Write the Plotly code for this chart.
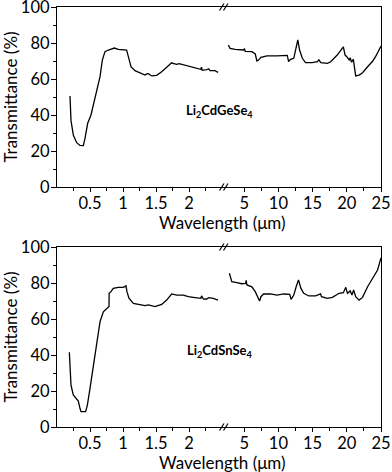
import plotly.graph_objects as go

# ---------------- data ----------------
ge_nir_wl = [0.197, 0.212, 0.247, 0.298, 0.348, 0.399, 0.424, 0.465, 0.515, 0.565, 0.616, 0.652,
             0.687, 0.727, 0.778, 0.828, 0.869, 0.929, 1.005, 1.055, 1.081, 1.121, 1.182, 1.258,
             1.333, 1.36, 1.384, 1.434, 1.51, 1.586, 1.662, 1.737, 1.77, 1.813, 1.85, 1.889,
             1.99, 2.09, 2.177, 2.19, 2.2, 2.27, 2.3, 2.318, 2.394, 2.44]
ge_nir_T = [50.6, 37, 28.9, 24.6, 23.1, 23, 27, 35.4, 40, 47.4, 55.7, 61.3,
            70.5, 75.2, 76.1, 76.5, 77.2, 76.5, 76, 76, 72.4, 66.8, 64.6, 63.5,
            62.2, 62.8, 63, 61.7, 62, 64, 66.8, 69, 68.6, 68.1, 68.5, 68.1,
            67.2, 66.3, 65.4, 66.6, 64.8, 65.2, 65.7, 64.6, 64.6, 63.7]

ge_ir_wl = [2.69, 2.94, 3.68, 4.9, 5.05, 5.15, 6.13, 6.62, 6.86, 7.1, 7.45, 8.33, 9.8, 11.3,
            11.5, 11.76, 12.25, 12.6, 12.84, 13.1, 13.5, 13.97, 14.95, 15.7, 15.93, 16.2,
            17.16, 17.65, 18.6, 19.5, 19.75, 20.0, 20.35, 20.5, 20.7, 20.95, 21.1, 21.3,
            21.8, 22.3, 23.04, 23.8, 24.26, 24.75, 25.0]
ge_ir_T = [78.9, 77, 76.5, 76.1, 76.8, 75.3, 75.2, 73.9, 70, 70.5, 72, 72.8, 72.8, 73.1,
           69.6, 70.9, 71.5, 77.9, 81.7, 76.1, 71.5, 69.1, 69.1, 69.6, 70.6, 69.1,
           68.7, 69.6, 73.3, 77.9, 73.3, 72.4, 70.6, 71.8, 69.3, 71, 66.8, 61.7,
           62.2, 63.5, 66.8, 70, 72.8, 76.5, 78.3]

sn_nir_wl = [0.187, 0.197, 0.212, 0.247, 0.283, 0.323, 0.348, 0.364, 0.434, 0.46, 0.5, 0.55,
             0.6, 0.652, 0.702, 0.753, 0.788, 0.79, 0.818, 0.853, 0.929, 1.005, 1.045, 1.06,
             1.09, 1.157, 1.258, 1.333, 1.384, 1.485, 1.586, 1.662, 1.737, 1.813, 1.914, 1.99,
             2.09, 2.18, 2.19, 2.22, 2.27, 2.3, 2.37, 2.44]
sn_nir_T = [41.5, 32.6, 23.3, 17.8, 15.9, 14.4, 10.4, 8.5, 8.5, 12.2, 21.5, 34.4,
            47.4, 58.5, 64, 65.9, 66.9, 74.3, 75.2, 77, 77.6, 77.6, 78.4, 75.2,
            71.5, 68.7, 67.8, 67.4, 67.8, 66.9, 68.1, 70.5, 73.9, 73.3, 73.3, 72.4,
            71.9, 71.5, 72.8, 71, 71.1, 71.9, 71.5, 70.5]

sn_ir_wl = [2.84, 3.19, 3.93, 4.66, 5.2, 5.3, 5.4, 6.13, 6.62, 6.96, 7.25, 7.45, 7.84, 8.82,
            9.8, 10.8, 11.66, 11.86, 12.25, 12.6, 12.94, 13.3, 13.7, 14.45, 15.44, 16.17,
            16.3, 17.16, 17.9, 18.87, 19.5, 19.85, 20.1, 20.5, 20.76, 21.0, 21.3, 21.8,
            22.3, 23.04, 23.8, 24.5, 25.0]
sn_ir_T = [85.4, 80.7, 80.2, 79.6, 79.8, 81.5, 78.9, 77.9, 75.2, 72.4, 70, 72.4, 73.9, 73.9,
           73.3, 73.9, 73.7, 70.9, 73.3, 77.9, 81.7, 77, 74.3, 72.8, 72.8, 73.9,
           72.4, 71.5, 72, 74.3, 74.6, 77.6, 74.3, 75.6, 73.3, 76.1, 72.4, 70.5,
           72, 77.9, 82.6, 87.2, 94]

nir_ticks = [0.5, 1, 1.5, 2]
nir_ticklabels = ["0.5", "1", "1.5", "2"]
nir_minor = [0.25, 0.75, 1.25, 1.75, 2.25]
ir_ticks = [5, 10, 15, 20, 25]
ir_ticklabels = ["5", "10", "15", "20", "25"]
ir_minor = [7.5, 12.5, 17.5, 22.5]
y_ticks = [0, 20, 40, 60, 80, 100]
y_minor = [10, 30, 50, 70, 90]

labels = ["Li<sub>2</sub>CdGeSe<sub>4</sub>", "Li<sub>2</sub>CdSnSe<sub>4</sub>"]
x_title = "Wavelength (μm)"
y_title = "Transmittance (%)"

# ---------------- layout geometry ----------------
W, H = 392, 472
ML, MR, MT, MB = 57, 11, 7, 45
PW, PH = W - ML - MR, H - MT - MB
split_px = 225
split = (split_px - ML) / PW
top_dom = [(427 - 187) / PH, 1.0]
bot_dom = [0.0, (427 - 247) / PH]

FONT = "Lato"
FS = 16.5

fig = go.Figure()
line = dict(color="black", width=1.3)
series = [(ge_nir_wl, ge_nir_T, "x", "y"), (ge_ir_wl, ge_ir_T, "x2", "y2"),
          (sn_nir_wl, sn_nir_T, "x3", "y3"), (sn_ir_wl, sn_ir_T, "x4", "y4")]
for xs, ys, xa, ya in series:
    fig.add_trace(go.Scatter(x=xs, y=ys, mode="lines", line=line, xaxis=xa, yaxis=ya,
                             showlegend=False, hoverinfo="skip", cliponaxis=False))

common_x = dict(showline=True, linecolor="black", linewidth=1.3, mirror=True, showgrid=False,
                zeroline=False, ticks="outside", ticklen=4, tickwidth=1.1, tickcolor="black",
                tickfont=dict(family=FONT, size=FS, color="black"), tickmode="array",
                automargin=False, ticklabeloverflow="allow", ticklabelstandoff=-3)
nir_x = dict(common_x, range=[0, (split_px - ML) / 66.0], tickvals=nir_ticks, ticktext=nir_ticklabels,
             minor=dict(tickmode="array", tickvals=nir_minor, ticks="outside", ticklen=3,
                        tickcolor="black", tickwidth=1.1))
ir_x = dict(common_x, range=[(split_px - 210) / 6.82, 25], tickvals=ir_ticks, ticktext=ir_ticklabels,
            minor=dict(tickmode="array", tickvals=ir_minor, ticks="outside", ticklen=3,
                       tickcolor="black", tickwidth=1.1))
left_y = dict(range=[0, 100], showline=True, linecolor="black", linewidth=1.3, showgrid=False,
              zeroline=False, ticks="outside", ticklen=5, tickwidth=1.1, tickcolor="black",
              tickmode="array", tickvals=y_ticks, automargin=False, ticklabeloverflow="allow",
              ticklabelstandoff=-2,
              minor=dict(tickmode="array", tickvals=y_minor, ticks="outside", ticklen=3,
                         tickcolor="black", tickwidth=1.1),
              tickfont=dict(family=FONT, size=FS, color="black"),
              title=dict(text=y_title, font=dict(family=FONT, size=17, color="black"), standoff=8))
right_y = dict(range=[0, 100], showline=True, linecolor="black", linewidth=1.3, showgrid=False,
               zeroline=False, ticks="", showticklabels=False, side="right", automargin=False)

fig.update_layout(
    width=W, height=H, margin=dict(l=ML, r=MR, t=MT, b=MB, autoexpand=False),
    paper_bgcolor="white", plot_bgcolor="white", showlegend=False,
    xaxis=dict(nir_x, domain=[0, split], anchor="y"),
    xaxis2=dict(ir_x, domain=[split, 1], anchor="y2"),
    xaxis3=dict(nir_x, domain=[0, split], anchor="y3"),
    xaxis4=dict(ir_x, domain=[split, 1], anchor="y4"),
    yaxis=dict(left_y, domain=top_dom, anchor="x"),
    yaxis2=dict(right_y, domain=top_dom, anchor="x2"),
    yaxis3=dict(left_y, domain=bot_dom, anchor="x3"),
    yaxis4=dict(right_y, domain=bot_dom, anchor="x4"),
)

# x-axis titles (shared across the broken axis)
for yc in [(427 - 223) / PH, (427 - 463) / PH]:
    fig.add_annotation(text=x_title, xref="paper", yref="paper", x=(222 - ML) / PW, y=yc,
                       showarrow=False, xanchor="center", yanchor="middle",
                       font=dict(family=FONT, size=17, color="black"))

# compound labels
for lab, yc in zip(labels, [(427 - 111) / PH, (427 - 351) / PH]):
    fig.add_annotation(text="<b>" + lab + "</b>", xref="paper", yref="paper", x=(219 - ML) / PW, y=yc,
                       showarrow=False, xanchor="center", yanchor="middle",
                       font=dict(family=FONT, size=13, color="black"))

# axis-break marks "//"
def px2paper(px, py):
    return (px - ML) / PW, (427 - py) / PH

for spine in [7, 187, 247, 427]:
    for dx in [-3.5, 0.5]:
        x0, y0 = px2paper(split_px + dx - 2, spine + 3.5)
        x1, y1 = px2paper(split_px + dx + 2.5, spine - 3.5)
        fig.add_shape(type="line", xref="paper", yref="paper", x0=x0, y0=y0, x1=x1, y1=y1,
                      line=dict(color="black", width=1.2))

fig.write_html("out.html", config={"displayModeBar": False},
               post_script="document.body.style.margin='0';document.body.style.padding='0';")
